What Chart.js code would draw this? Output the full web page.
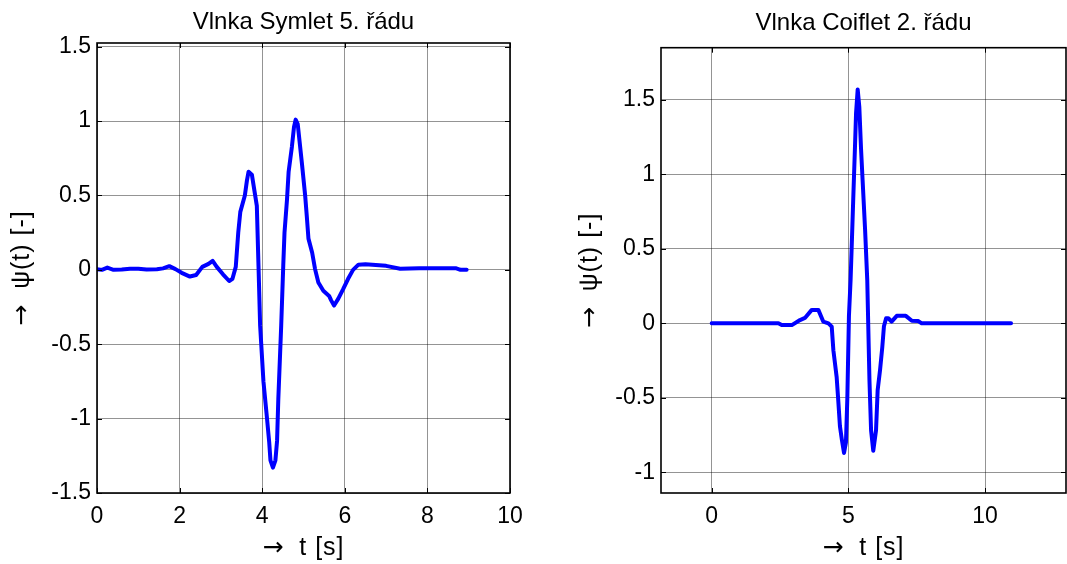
<!DOCTYPE html>
<html>
<head>
<meta charset="utf-8">
<title>Vlnky</title>
<script src="https://cdn.jsdelivr.net/npm/chart.js@4/dist/chart.umd.min.js"></script>
<style>
  html, body { margin: 0; padding: 0; background: #fff; }
  #wrap { position: relative; width: 1067px; height: 564px; overflow: hidden; }
  canvas { position: absolute; top: 0; }
  #symChart { left: 0; }
  #coifChart { left: 540px; }
</style>
</head>
<body>
<div id="wrap">
  <canvas id="symChart" width="540" height="564"></canvas>
  <canvas id="coifChart" width="527" height="564"></canvas>
</div>
<script>
// Symlet 5. řádu - odečtené body (t, psi)
const symT = [0, 0.12, 0.25, 0.4, 0.6, 0.8, 1.0, 1.2, 1.45, 1.6, 1.75, 1.9, 2.05, 2.25, 2.4, 2.55, 2.7, 2.8, 2.9, 3.05,
  3.2, 3.28, 3.36, 3.42, 3.47, 3.58, 3.63, 3.67, 3.75, 3.87, 3.91, 3.95, 4.03, 4.11, 4.17, 4.2, 4.26, 4.32, 4.36, 4.39,
  4.46, 4.51, 4.54, 4.6, 4.64, 4.72, 4.77, 4.81, 4.86, 4.96, 5.04, 5.08, 5.12, 5.21, 5.28, 5.36, 5.48, 5.62, 5.67, 5.74,
  5.84, 5.96, 6.08, 6.2, 6.33, 6.5, 7.0, 7.34, 7.8, 8.7, 8.8, 8.95];
const symPsi = [0.005, 0.0, 0.015, 0.0, 0.003, 0.008, 0.008, 0.003, 0.004, 0.01, 0.025, 0.005, -0.02, -0.045, -0.035, 0.02, 0.04, 0.06, 0.02, -0.03,
  -0.075, -0.06, 0.02, 0.25, 0.39, 0.5, 0.6, 0.66, 0.64, 0.43, 0.03, -0.375, -0.75, -0.98, -1.16, -1.28, -1.33, -1.28, -1.15, -0.87,
  -0.375, 0.03, 0.25, 0.47, 0.66, 0.83, 0.96, 1.01, 0.98, 0.72, 0.5, 0.36, 0.21, 0.115, 0.005, -0.085, -0.14, -0.175, -0.205, -0.24,
  -0.195, -0.13, -0.06, 0.0, 0.035, 0.038, 0.027, 0.008, 0.01, 0.01, 0.0, 0.0];
const symXTicks = [0, 2, 4, 6, 8, 10];
const symYTicks = [-1.5, -1, -0.5, 0, 0.5, 1, 1.5];

// Coiflet 2. řádu
const coifT = [0, 2.44, 2.56, 2.93, 3.23, 3.41, 3.66, 3.9, 4.08, 4.27, 4.39, 4.45, 4.57, 4.63, 4.69, 4.76, 4.84, 4.91, 4.96, 5.02,
  5.08, 5.12, 5.18, 5.24, 5.28, 5.34, 5.4, 5.46, 5.52, 5.61, 5.69, 5.73, 5.77, 5.83, 5.91, 6.01, 6.07, 6.16, 6.24, 6.3,
  6.38, 6.46, 6.58, 6.77, 7.1, 7.32, 7.56, 7.68, 10.95];
const coifPsi = [0, 0, -0.012, -0.012, 0.022, 0.036, 0.09, 0.09, 0.012, 0.0, -0.022, -0.18, -0.36, -0.52, -0.69, -0.78, -0.87, -0.8, -0.51, 0.05,
  0.29, 0.51, 0.85, 1.18, 1.41, 1.57, 1.45, 1.18, 0.96, 0.63, 0.29, -0.045, -0.38, -0.72, -0.855, -0.72, -0.45, -0.31, -0.16, -0.02,
  0.034, 0.034, 0.011, 0.05, 0.05, 0.017, 0.015, 0.0, 0.0];
const coifXTicks = [0, 5, 10];
const coifYTicks = [-1, -0.5, 0, 0.5, 1, 1.5];

const FONT = "'Liberation Sans', Arial, Helvetica, sans-serif";
const ARROW_FONT = "'DejaVu Sans', sans-serif";

// ramecek kolem grafu a ticky dovnitr (jako v Matlabu)
const boxPlugin = {
  id: 'box',
  afterDraw(chart) {
    const ctx = chart.ctx;
    const a = chart.chartArea;
    const sx = chart.scales.x, sy = chart.scales.y;
    ctx.save();
    ctx.strokeStyle = '#000';
    ctx.lineWidth = 1;
    ctx.beginPath();
    sx.ticks.forEach(t => {
      const px = Math.round(sx.getPixelForValue(t.value)) + 0.5;
      ctx.moveTo(px, a.bottom); ctx.lineTo(px, a.bottom - 5);
      ctx.moveTo(px, a.top); ctx.lineTo(px, a.top + 5);
    });
    sy.ticks.forEach(t => {
      const py = Math.round(sy.getPixelForValue(t.value)) + 0.5;
      ctx.moveTo(a.left, py); ctx.lineTo(a.left + 5, py);
      ctx.moveTo(a.right, py); ctx.lineTo(a.right - 5, py);
    });
    ctx.stroke();
    ctx.lineWidth = 1.6;
    ctx.strokeRect(a.left, a.top, a.right - a.left, a.bottom - a.top);
    ctx.restore();
  }
};

// popisky os se sipkou (sipka jinym fontem, aby byla velka jako v Matlabu)
function drawArrowLabel(ctx, text, cx, cy, rot) {
  ctx.save();
  ctx.translate(cx, cy);
  ctx.rotate(rot);
  ctx.fillStyle = '#000';
  ctx.textBaseline = 'middle';
  ctx.textAlign = 'left';
  ctx.font = '25px ' + ARROW_FONT;
  const wa = ctx.measureText('→').width;
  ctx.font = '25px ' + FONT;
  ctx.letterSpacing = '1px';
  const wt = ctx.measureText(text).width;
  const x0 = -(wa + wt) / 2;
  ctx.fillText(text, x0 + wa, 1);
  ctx.letterSpacing = '0px';
  ctx.font = '25px ' + ARROW_FONT;
  ctx.fillText('→', x0, 1);
  ctx.restore();
}

function axisLabels(cfg) {
  return {
    id: 'axisLabels',
    afterDraw(chart) {
      const a = chart.chartArea;
      drawArrowLabel(chart.ctx, '  t [s]', (a.left + a.right) / 2, 547, 0);
      drawArrowLabel(chart.ctx, '  ψ(t) [-]', cfg.yLabelX, (a.top + a.bottom) / 2, -Math.PI / 2);
    }
  };
}

function makeChart(id, cfg) {
  const points = cfg.t.map((t, i) => ({ x: t, y: cfg.psi[i] }));
  return new Chart(document.getElementById(id), {
    type: 'line',
    data: {
      datasets: [{
        data: points,
        borderColor: '#0000ff',
        borderWidth: 4,
        pointRadius: 0,
        tension: 0,
        borderJoinStyle: 'round',
        borderCapStyle: 'round'
      }]
    },
    options: {
      responsive: false,
      animation: false,
      devicePixelRatio: 1,
      layout: { padding: { left: 0, right: cfg.padRight, top: 0, bottom: 0 } },
      plugins: {
        legend: { display: false },
        tooltip: { enabled: false },
        title: {
          display: true,
          text: cfg.title,
          fullSize: false,
          color: '#000',
          font: { family: FONT, size: 24, weight: 'normal' },
          padding: { top: cfg.titleTop, bottom: cfg.titleBottom }
        }
      },
      scales: {
        x: {
          type: 'linear',
          min: cfg.xMin,
          max: cfg.xMax,
          afterBuildTicks: s => { s.ticks = cfg.xTicks.map(v => ({ value: v })); },
          afterFit: s => { s.height = 71; },
          ticks: {
            color: '#000',
            font: { family: FONT, size: 23 },
            padding: 10,
            maxRotation: 0,
            callback: v => String(v)
          },
          grid: { color: 'rgba(0,0,0,0.42)', lineWidth: 1, drawTicks: false },
          border: { display: false }
        },
        y: {
          type: 'linear',
          min: cfg.yMin,
          max: cfg.yMax,
          afterBuildTicks: s => { s.ticks = cfg.yTicks.map(v => ({ value: v })); },
          afterFit: s => { s.width = cfg.yWidth; },
          ticks: {
            color: '#000',
            font: { family: FONT, size: 23 },
            padding: 6,
            callback: v => String(v)
          },
          grid: { color: 'rgba(0,0,0,0.42)', lineWidth: 1, drawTicks: false },
          border: { display: false }
        }
      }
    },
    plugins: [boxPlugin, axisLabels(cfg)]
  });
}

makeChart('symChart', {
  t: symT, psi: symPsi, xTicks: symXTicks, yTicks: symYTicks,
  title: 'Vlnka Symlet 5. řádu',
  xMin: 0, xMax: 10, yMin: -1.5, yMax: 1.525,
  yWidth: 97, padRight: 30, titleTop: 8, titleBottom: 6.2, yLabelX: 21
});

makeChart('coifChart', {
  t: coifT, psi: coifPsi, xTicks: coifXTicks, yTicks: coifYTicks,
  title: 'Vlnka Coiflet 2. řádu',
  xMin: -1.855, xMax: 12.96, yMin: -1.139, yMax: 1.85,
  yWidth: 121, padRight: 1, titleTop: 8.6, titleBottom: 10.3, yLabelX: 49
});
</script>
</body>
</html>
